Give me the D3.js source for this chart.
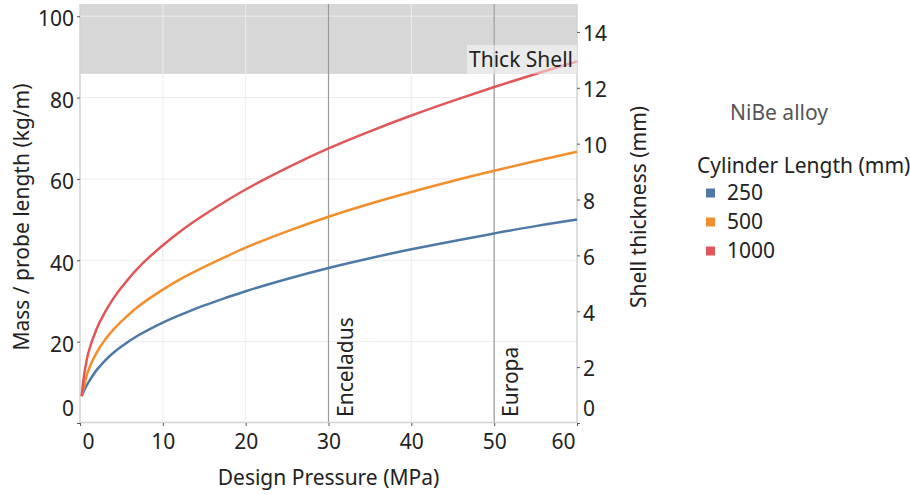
<!DOCTYPE html>
<html>
<head>
<meta charset="utf-8">
<script src="https://cdn.jsdelivr.net/npm/d3@7"></script>
<style>
  body { margin: 0; background: #fff; }
  svg { font-family: "Noto Sans", "Open Sans", sans-serif; }
</style>
</head>
<body>
<svg id="chart" width="910" height="495"></svg>
<script>
// values
var pressure   = [0.2, 0.5, 1, 2, 3, 4, 5, 7, 10, 12.5, 15, 17.5, 20, 25, 30, 35, 40, 45, 50, 55, 60];
var mass250    = [6.6, 8.0, 9.9, 13.0, 15.3, 17.2, 18.8, 21.5, 24.7, 26.9, 28.9, 30.7, 32.4, 35.4, 38.1, 40.5, 42.7, 44.7, 46.6, 48.4, 50.0];
var mass500    = [6.6, 9.2, 12.9, 17.3, 20.4, 22.9, 25.0, 28.6, 32.8, 35.8, 38.4, 40.8, 43.1, 47.1, 50.7, 53.9, 56.8, 59.5, 62.0, 64.4, 66.7];
var mass1000   = [6.6, 11.8, 17.2, 23.1, 27.2, 30.5, 33.3, 38.1, 43.7, 47.7, 51.2, 54.4, 57.4, 62.7, 67.5, 71.7, 75.6, 79.2, 82.6, 85.8, 88.9];
var lengths    = ["250", "500", "1000"];
var colors     = ["#4e79a7", "#f28e2b", "#e15759"];
var xTicks     = [0, 10, 20, 30, 40, 50, 60];
var massTicks  = [0, 20, 40, 60, 80, 100];
var shellTicks = [0, 2, 4, 6, 8, 10, 12, 14];
var refPressures = [30, 50];
var refLabels    = ["Enceladus", "Europa"];
var thickShellMin = 12.5;   // mm

var plotLeft = 80, plotRight = 577, plotTop = 4, plotBottom = 423;
var fontSize = "21px";

var svg = d3.select("#chart");

var x = d3.scaleLinear().domain([0, 60]).range([plotLeft, plotRight]);
var yMass = d3.scaleLinear().domain([0, 103]).range([plotBottom, plotTop]);
var yShell = d3.scaleLinear().domain([0, 15]).range([plotBottom, plotTop]);

// thick shell band
svg.append("rect")
    .attr("x", plotLeft)
    .attr("y", plotTop)
    .attr("width", plotRight - plotLeft)
    .attr("height", yShell(thickShellMin) - plotTop)
    .style("fill", "#d7d7d7");

// grid
svg.append("g").selectAll("line")
    .data(xTicks.slice(1, -1))
    .join("line")
    .attr("x1", function(d) { return x(d); })
    .attr("x2", function(d) { return x(d); })
    .attr("y1", plotTop)
    .attr("y2", plotBottom)
    .style("stroke", "#ececec")
    .style("stroke-width", 1);

svg.append("g").selectAll("line")
    .data(massTicks.slice(1))
    .join("line")
    .attr("x1", plotLeft)
    .attr("x2", plotRight)
    .attr("y1", function(d) { return yMass(d); })
    .attr("y2", function(d) { return yMass(d); })
    .style("stroke", "#ececec")
    .style("stroke-width", 1);

// reference lines
svg.append("g").selectAll("line")
    .data(refPressures)
    .join("line")
    .attr("x1", function(d) { return x(d); })
    .attr("x2", function(d) { return x(d); })
    .attr("y1", plotTop)
    .attr("y2", plotBottom)
    .style("stroke", "#9a9a9a")
    .style("stroke-width", 1.2);

svg.append("g").selectAll("text")
    .data(refPressures)
    .join("text")
    .attr("transform", function(d) { return "translate(" + (x(d) + 24) + "," + 417 + ") rotate(-90)"; })
    .style("font-size", fontSize)
    .style("fill", "#222")
    .text(function(d, i) { return refLabels[i]; });

// axis lines
svg.append("line")
    .attr("x1", plotLeft).attr("x2", plotLeft).attr("y1", plotTop).attr("y2", plotBottom)
    .style("stroke", "#d2d2d2").style("stroke-width", 1.5);
svg.append("line")
    .attr("x1", plotRight).attr("x2", plotRight).attr("y1", plotTop).attr("y2", plotBottom)
    .style("stroke", "#d2d2d2").style("stroke-width", 1.5);
svg.append("line")
    .attr("x1", plotLeft).attr("x2", plotRight).attr("y1", plotBottom - 0.5).attr("y2", plotBottom - 0.5)
    .style("stroke", "#d2d2d2").style("stroke-width", 1.5);

// series
var series = [mass250, mass500, mass1000];
var line = d3.line()
    .x(function(d, i) { return x(pressure[i]); })
    .y(function(d) { return yMass(d); })
    .curve(d3.curveCatmullRom.alpha(0.5));

svg.append("g").selectAll("path")
    .data(series)
    .join("path")
    .attr("d", line)
    .style("fill", "none")
    .style("stroke", function(d, i) { return colors[i]; })
    .style("stroke-width", 2.5);

// thick shell label (semi-transparent box over the lines)
var tsLabel = svg.append("g");
tsLabel.append("rect")
    .attr("x", 467).attr("y", 45)
    .attr("width", plotRight - 467).attr("height", yShell(thickShellMin) - 45)
    .style("fill", "#fff").style("fill-opacity", 0.48);
tsLabel.append("text")
    .attr("x", plotRight - 4).attr("y", 60)
    .attr("dy", "0.35em")
    .attr("text-anchor", "end")
    .style("font-size", fontSize)
    .style("fill", "#222")
    .text("Thick Shell");

// axes
function styleAxis(g) {
    g.select(".domain").remove();
    g.selectAll(".tick line").style("stroke", "#555");
    g.selectAll(".tick text")
        .style("font-size", fontSize)
        .style("font-family", "\"Noto Sans\", sans-serif")
        .style("fill", "#222");
}

var xAxis = svg.append("g")
    .attr("transform", "translate(0," + plotBottom + ")")
    .call(d3.axisBottom(x).tickValues(xTicks).tickSize(3).tickPadding(8))
    .call(styleAxis);
// keep edge labels inside the plot width
xAxis.selectAll(".tick text").each(function(d) {
    var w = this.getComputedTextLength();
    var cx = Math.max(plotLeft + w / 2 + 2, Math.min(plotRight - w / 2 - 2, x(d)));
    d3.select(this).attr("x", cx - x(d));
});

var massAxis = svg.append("g")
    .attr("transform", "translate(" + plotLeft + ",0)")
    .call(d3.axisLeft(yMass).tickValues(massTicks).tickSize(3).tickPadding(3))
    .call(styleAxis);
massAxis.selectAll(".tick text").attr("y", function(d) { return d === 0 ? -14 : 3; });

var shellAxis = svg.append("g")
    .attr("transform", "translate(" + plotRight + ",0)")
    .call(d3.axisRight(yShell).tickValues(shellTicks).tickSize(3).tickPadding(3))
    .call(styleAxis);
shellAxis.selectAll(".tick text").attr("y", function(d) { return d === 0 ? -14 : 2; });

// axis titles
svg.append("text")
    .attr("x", (plotLeft + plotRight) / 2).attr("y", 478)
    .attr("dy", "0.35em")
    .attr("text-anchor", "middle")
    .style("font-size", fontSize).style("fill", "#222")
    .text("Design Pressure (MPa)");

svg.append("text")
    .attr("transform", "translate(22," + 217 + ") rotate(-90)")
    .attr("dy", "0.35em")
    .attr("text-anchor", "middle")
    .style("font-size", fontSize).style("fill", "#222")
    .text("Mass / probe length (kg/m)");

svg.append("text")
    .attr("transform", "translate(639," + 207 + ") rotate(-90)")
    .attr("dy", "0.35em")
    .attr("text-anchor", "middle")
    .style("font-size", fontSize).style("fill", "#222")
    .text("Shell thickness (mm)");

// legend
svg.append("text")
    .attr("x", 779).attr("y", 113)
    .attr("dy", "0.35em")
    .attr("text-anchor", "middle")
    .style("font-size", fontSize).style("fill", "#555")
    .text("NiBe alloy");

svg.append("text")
    .attr("x", 697).attr("y", 166)
    .attr("dy", "0.35em")
    .style("font-size", fontSize).style("fill", "#222")
    .text("Cylinder Length (mm)");

var legend = svg.append("g").selectAll("g")
    .data(lengths)
    .join("g")
    .attr("transform", function(d, i) { return "translate(706," + (193 + i * 29) + ")"; });

legend.append("rect")
    .attr("x", 0).attr("y", -4.5)
    .attr("width", 9).attr("height", 9)
    .style("fill", function(d, i) { return colors[i]; });

legend.append("text")
    .attr("x", 21).attr("dy", "0.35em")
    .style("font-size", fontSize).style("fill", "#222")
    .text(function(d) { return d; });
</script>
</body>
</html>
